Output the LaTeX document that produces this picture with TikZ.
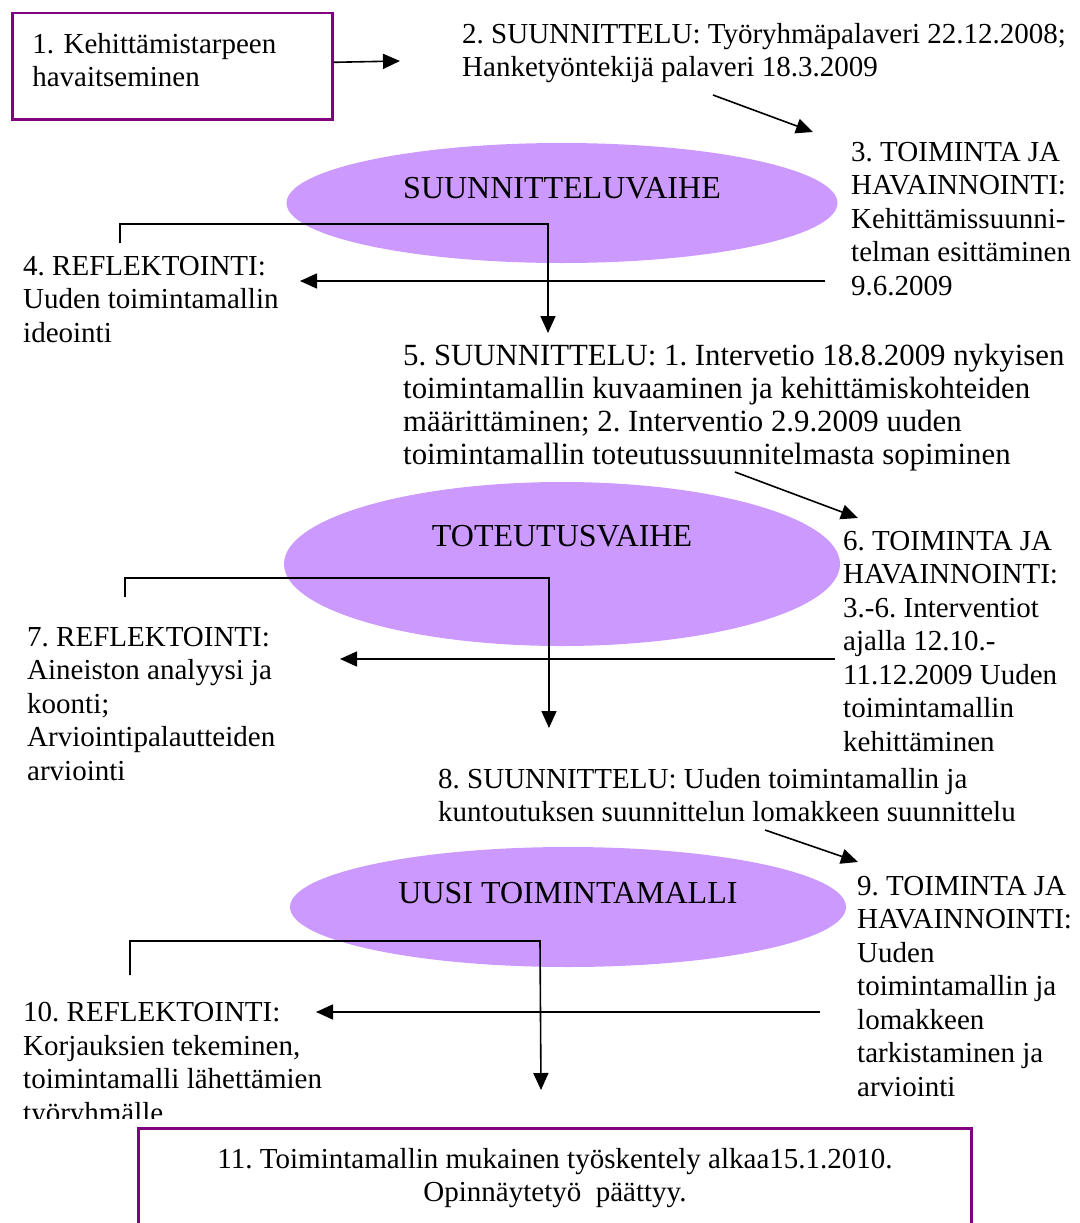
\documentclass[tikz,border=0pt]{standalone}
\usepackage{fontspec}
\setmainfont{Liberation Serif}
\usetikzlibrary{arrows.meta,shapes.geometric,positioning}
\definecolor{kehysvari}{HTML}{800080}
\definecolor{vaihevari}{HTML}{CC99FF}
\frenchspacing

\begin{document}
\begin{tikzpicture}
          [x=1pt, y=-1pt,
          font=\fontsize{29}{33.5}\selectfont,
          kehys/.style={draw=kehysvari, line width=2.5pt, rectangle},
          teksti/.style={anchor=north west, align=left, inner sep=0pt},
          vaihe/.style={ellipse, fill=vaihevari, inner sep=0pt},
          vaiheteksti/.style={font=\fontsize{32}{36}\selectfont},
          line/.style={draw, line width=1.6pt, -{Triangle[length=17pt,width=15pt]}}]

          \useasboundingbox (0,0) rectangle (1079,1223);

          \node [vaihe, minimum width=551pt, minimum height=120pt,
                 label={[vaiheteksti, yshift=15pt]center:SUUNNITTELUVAIHE}] (suunnitteluvaihe) at (562,203) {};
          \node [vaihe, minimum width=556pt, minimum height=164pt,
                 label={[vaiheteksti, yshift=28pt]center:TOTEUTUSVAIHE}] (toteutusvaihe) at (562,564) {};
          \node [vaihe, minimum width=556pt, minimum height=120pt,
                 label={[vaiheteksti, yshift=14pt]center:UUSI TOIMINTAMALLI}] (uusimalli) at (568,907) {};

          \node [kehys, anchor=north west, align=left, text width=280pt, inner xsep=20pt,
                 inner ysep=20pt, text depth=46pt] (havaitseminen) at (11,12) {1. Kehittämistarpeen\\havaitseminen};
          \node [teksti] (suunnittelu1) at (462,23) {2. SUUNNITTELU: Työryhmäpalaveri 22.12.2008;\\Hanketyöntekijä palaveri 18.3.2009};
          \node [teksti] (toiminta1) at (851,142) {3. TOIMINTA JA\\HAVAINNOINTI:\\Kehittämissuunni-\\telman esittäminen\\9.6.2009};
          \node [teksti] (reflektointi1) at (23,256) {4. REFLEKTOINTI:\\Uuden toimintamallin\\ideointi};
          \node [teksti, font=\fontsize{30.8}{33}\selectfont] (suunnittelu2) at (403,344) {5. SUUNNITTELU: 1. Intervetio 18.8.2009 nykyisen\\toimintamallin kuvaaminen ja kehittämiskohteiden\\määrittäminen; 2. Interventio 2.9.2009 uuden\\toimintamallin toteutussuunnitelmasta sopiminen};
          \node [teksti] (toiminta2) at (843,531) {6. TOIMINTA JA\\HAVAINNOINTI:\\3.-6. Interventiot\\ajalla 12.10.-\\11.12.2009 Uuden\\toimintamallin\\kehittäminen};
          \node [teksti] (reflektointi2) at (27,627) {7. REFLEKTOINTI:\\Aineiston analyysi ja\\koonti;\\Arviointipalautteiden\\arviointi};
          \node [teksti] (suunnittelu3) at (438,768) {8. SUUNNITTELU: Uuden toimintamallin ja\\kuntoutuksen suunnittelun lomakkeen suunnittelu};
          \node [teksti] (toiminta3) at (857,876) {9. TOIMINTA JA\\HAVAINNOINTI:\\Uuden\\toimintamallin ja\\lomakkeen\\tarkistaminen ja\\arviointi};
          \begin{scope}
              \clip (0,0) rectangle (1079,1118);
              \node [teksti] (reflektointi3) at (23,1002) {10. REFLEKTOINTI:\\Korjauksien tekeminen,\\toimintamalli lähettämien\\työryhmälle};
          \end{scope}
          \node [kehys, anchor=north, align=center, minimum width=833pt, minimum height=100pt]
                (aloitus) at (555,1127) {11. Toimintamallin mukainen työskentely alkaa15.1.2010.\\Opinnäytetyö\ \ päättyy.};

          \coordinate (kohde2) at (400,61);
          \coordinate (lahto3) at (713,95);   \coordinate (kohde3) at (813,132);
          \coordinate (lahto4) at (825,281);  \coordinate (kohde4) at (300,281);
          \coordinate (haara1) at (120,243);  \coordinate (kulma1) at (548,224);  \coordinate (kohde5) at (548,333);
          \coordinate (lahto6) at (735,472);  \coordinate (kohde6) at (858,518);
          \coordinate (lahto7) at (835,659);  \coordinate (kohde7) at (340,659);
          \coordinate (haara2) at (125,597);  \coordinate (kulma2) at (549,578);  \coordinate (kohde8) at (549,728);
          \coordinate (lahto9) at (765,830);  \coordinate (kohde9) at (858,862);
          \coordinate (lahto10) at (820,1012); \coordinate (kohde10) at (316,1012);
          \coordinate (haara3) at (130,975);  \coordinate (kulma3) at (540,941);  \coordinate (kohde11) at (541,1090);

          \begin{scope}[every path/.style=line]
              \path ([yshift=4pt]havaitseminen.east) -- (kohde2);
              \path (lahto3) -- (kohde3);
              \path (lahto4) -- (kohde4);
              \path (haara1) |- (kulma1) -- (kohde5);
              \path (lahto6) -- (kohde6);
              \path (lahto7) -- (kohde7);
              \path (haara2) |- (kulma2) -- (kohde8);
              \path (lahto9) -- (kohde9);
              \path (lahto10) -- (kohde10);
              \path (haara3) |- (kulma3) -- (kohde11);
          \end{scope}
  \end{tikzpicture}
\end{document}
